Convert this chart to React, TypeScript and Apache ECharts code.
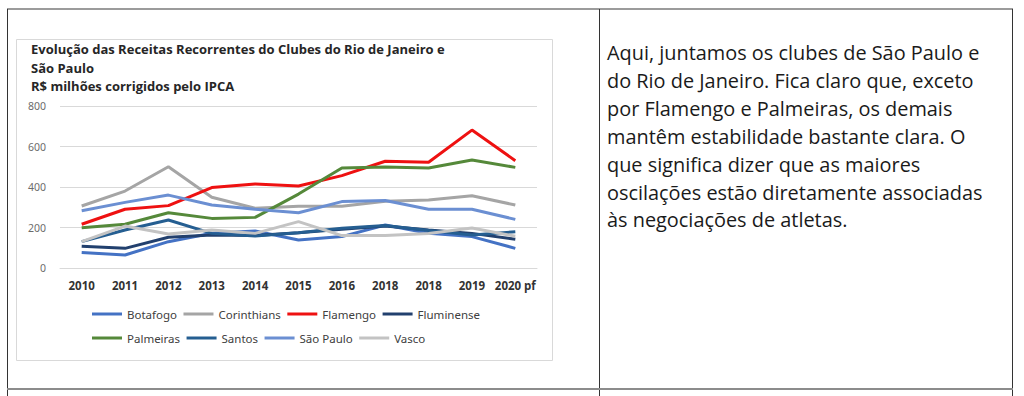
import React, { useEffect, useRef } from "react";
import * as echarts from "echarts";

const categories = ["2010", "2011", "2012", "2013", "2014", "2015", "2016", "2018", "2018", "2019", "2020 pf"];
const seriesNames = ["Botafogo", "Corinthians", "Flamengo", "Fluminense", "Palmeiras", "Santos", "São Paulo", "Vasco"];
const botafogo = [76, 64, 130, 172, 183, 138, 155, 212, 172, 155, 97];
const corinthians = [306, 380, 500, 349, 295, 305, 305, 330, 336, 357, 311];
const flamengo = [216, 290, 308, 397, 415, 405, 456, 527, 522, 681, 530];
const fluminense = [108, 97, 152, 163, 160, 174, 191, 207, 188, 171, 142];
const palmeiras = [199, 216, 273, 245, 250, 365, 494, 499, 494, 533, 497];
const santos = [130, 188, 237, 171, 158, 174, 196, 210, 185, 163, 179];
const saoPaulo = [283, 324, 360, 311, 290, 273, 328, 333, 290, 290, 240];
const vasco = [130, 207, 168, 188, 171, 229, 160, 160, 170, 198, 157];
const seriesColors = ["#4472C4", "#A5A5A5", "#EE1111", "#22406E", "#55893A", "#255E91", "#6B8FD2", "#C3C3C3"];
const yTicks = { min: 0, max: 800, interval: 200 };

const titleLines = [
  "Evolução das Receitas Recorrentes do Clubes do Rio de Janeiro e",
  "São Paulo",
  "R$ milhões corrigidos pelo IPCA",
];
const paragraphLines = [
  "Aqui, juntamos os clubes de São Paulo e",
  "do Rio de Janeiro. Fica claro que, exceto",
  "por Flamengo e Palmeiras, os demais",
  "mantêm estabilidade bastante clara. O",
  "que significa dizer que as maiores",
  "oscilações estão diretamente associadas",
  "às negociações de atletas.",
];

export default function App() {
  const ref = useRef<HTMLDivElement>(null);
  useEffect(() => {
    if (!ref.current) return;
    const chart = echarts.init(ref.current, null, { renderer: "svg" });
    const allData = [botafogo, corinthians, flamengo, fluminense, palmeiras, santos, saoPaulo, vasco];

    const legendBase = {
      left: 92,
      padding: 0,
      itemWidth: 30,
      itemHeight: 3,
      icon: "rect",
      itemGap: 6.5,
      itemTextGap: 2,
      selectedMode: false,
      textStyle: { width: 63, fontSize: 11.5, color: "#404040", fontFamily: "Noto Sans" },
    };

    const graphic: any[] = [
      { type: "line", shape: { x1: 7, y1: 9, x2: 1013, y2: 9 }, style: { stroke: "#7a7a7a", lineWidth: 1.5 } },
      { type: "line", shape: { x1: 7.5, y1: 9, x2: 7.5, y2: 396 }, style: { stroke: "#333", lineWidth: 1 } },
      { type: "line", shape: { x1: 599.5, y1: 9, x2: 599.5, y2: 396 }, style: { stroke: "#333", lineWidth: 1 } },
      { type: "line", shape: { x1: 1012.5, y1: 9, x2: 1012.5, y2: 396 }, style: { stroke: "#333", lineWidth: 1 } },
      { type: "line", shape: { x1: 7, y1: 389, x2: 1013, y2: 389 }, style: { stroke: "#8c8c8c", lineWidth: 2 } },
      { type: "rect", shape: { x: 16.5, y: 39.5, width: 536, height: 321 }, style: { fill: "none", stroke: "#D9D9D9", lineWidth: 1 } },
    ];
    titleLines.forEach((t, i) => {
      graphic.push({
        type: "text",
        x: 31,
        y: 49 + i * 18.5,
        style: {
          text: t,
          fontFamily: "Open Sans",
          fontWeight: "bold",
          fontSize: 13,
          fill: "#262626",
          textVerticalAlign: "middle",
        },
      });
    });
    paragraphLines.forEach((t, i) => {
      graphic.push({
        type: "text",
        x: 607,
        y: 52.5 + i * 27.9,
        style: {
          text: t,
          fontFamily: "Open Sans",
          fontSize: 19.9,
          fill: "#1a1a1a",
          textVerticalAlign: "middle",
        },
      });
    });

    chart.setOption({
      animation: false,
      backgroundColor: "#ffffff",
      grid: { left: 60, right: 487, top: 106, bottom: 128, containLabel: false },
      xAxis: {
        type: "category",
        data: categories,
        boundaryGap: true,
        axisTick: { show: false },
        axisLine: { lineStyle: { color: "#D9D9D9", width: 1 } },
        axisLabel: {
          interval: 0,
          margin: 11,
          color: "#333",
          fontWeight: "bold",
          fontSize: 11.5,
          fontFamily: "Open Sans",
        },
      },
      yAxis: {
        type: "value",
        min: yTicks.min,
        max: yTicks.max,
        interval: yTicks.interval,
        axisLine: { show: false },
        axisTick: { show: false },
        splitLine: { lineStyle: { color: "#D9D9D9", width: 1 } },
        axisLabel: { color: "#6b6b6b", fontSize: 10.5, fontFamily: "Noto Sans", margin: 14 },
      },
      legend: [
        { ...legendBase, top: 308, data: seriesNames.slice(0, 4) },
        { ...legendBase, top: 332, data: seriesNames.slice(4, 8) },
      ],
      series: seriesNames.map((name, i) => ({
        name,
        type: "line",
        data: allData[i],
        color: seriesColors[i],
        symbol: "none",
        lineStyle: { width: 3, color: seriesColors[i] },
      })),
      graphic,
    });
    return () => chart.dispose();
  }, []);
  return (
    <div
      ref={ref}
      style={{ position: "absolute", left: 0, top: 0, width: 1024, height: 396 }}
    />
  );
}
